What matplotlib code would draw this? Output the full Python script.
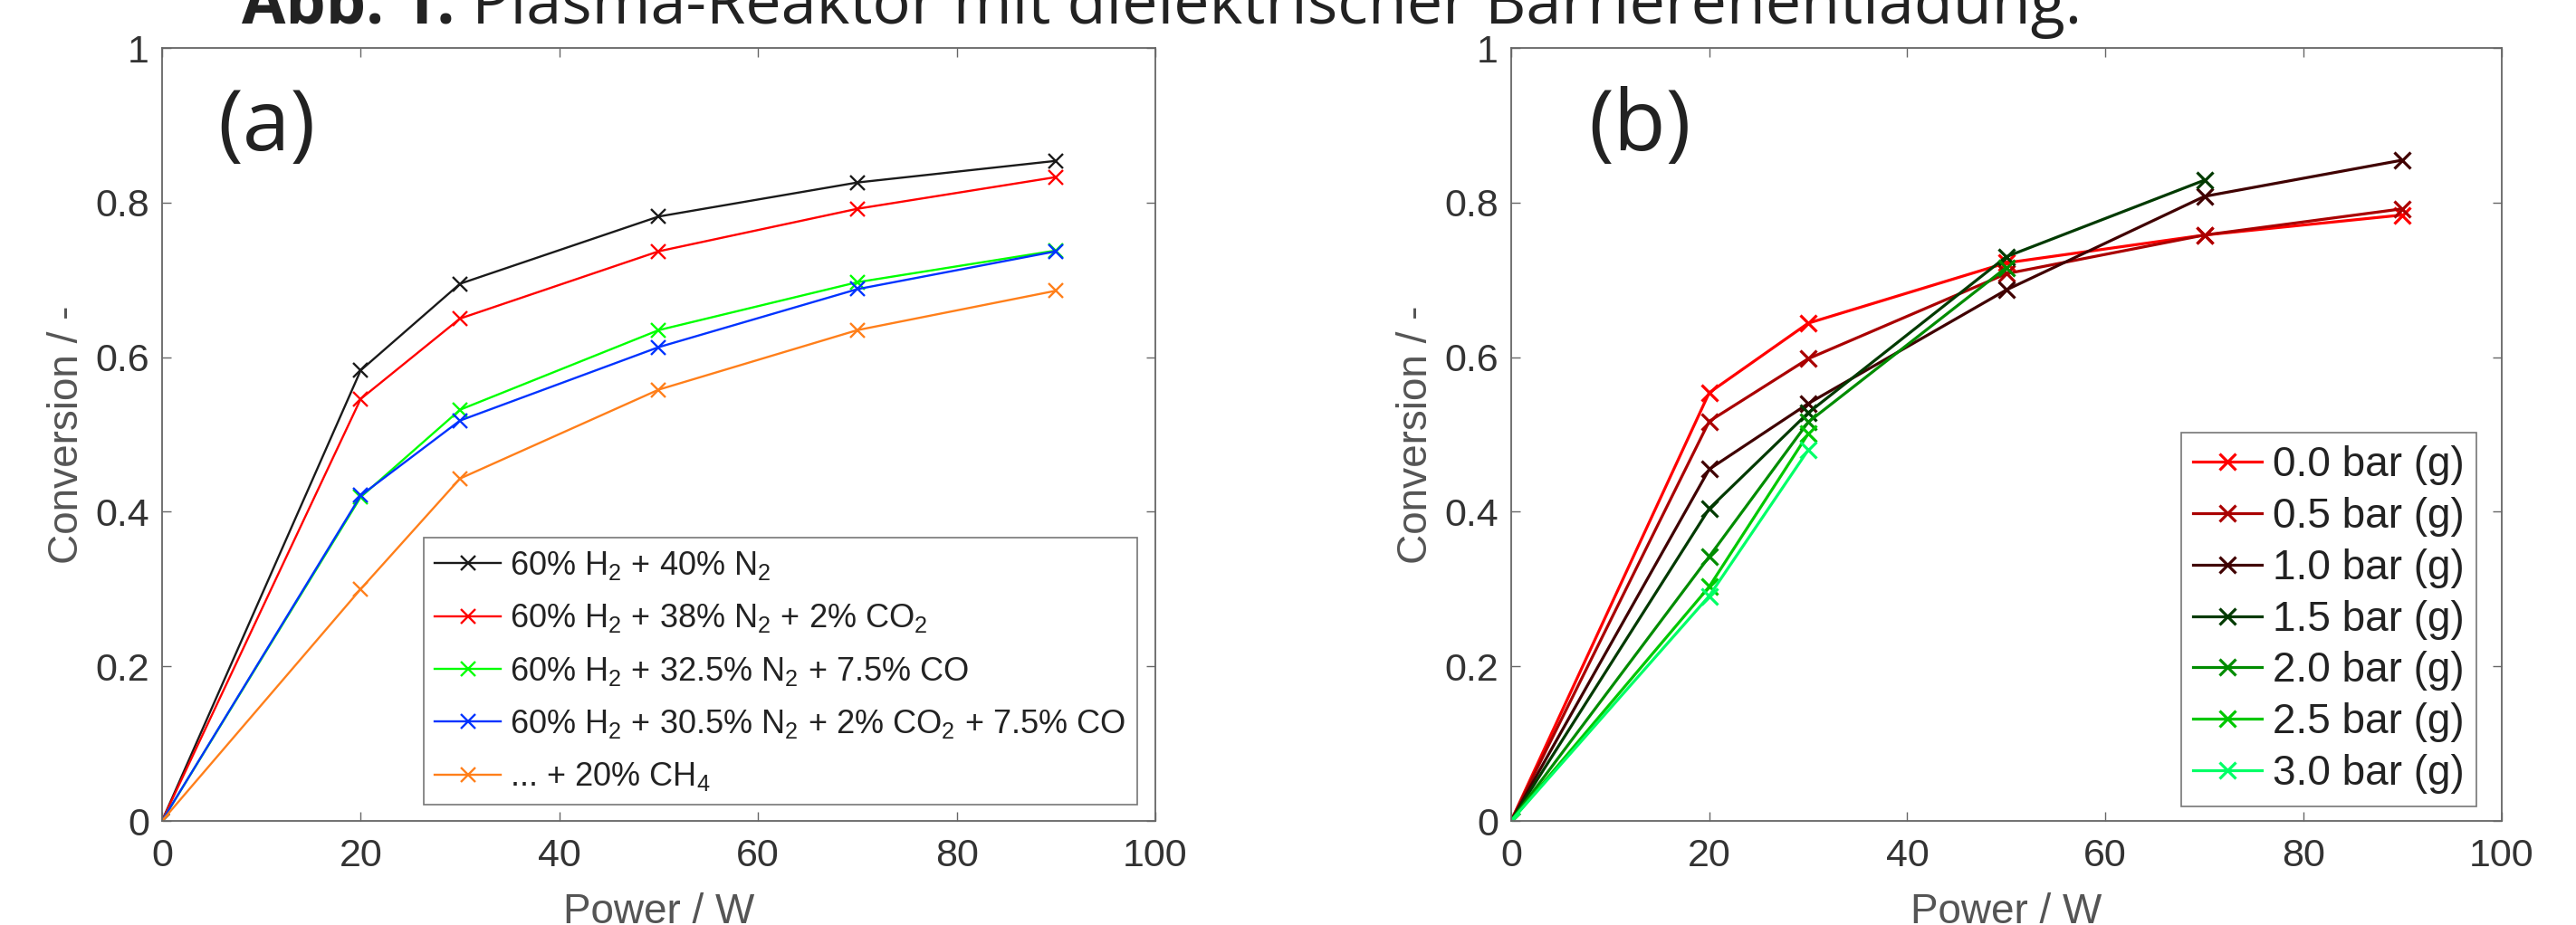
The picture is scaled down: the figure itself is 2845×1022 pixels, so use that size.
import numpy as np
import matplotlib.pyplot as plt

# ---- data (a): gas mixtures ----
power_a = [0, 20, 30, 50, 70, 90]
conv_h2n2 = [0, 0.583, 0.695, 0.782, 0.826, 0.854]
conv_co2 = [0, 0.546, 0.650, 0.737, 0.792, 0.833]
conv_co = [0, 0.419, 0.532, 0.635, 0.697, 0.738]
conv_co2_co = [0, 0.421, 0.518, 0.613, 0.688, 0.737]
conv_ch4 = [0, 0.300, 0.443, 0.558, 0.635, 0.686]

labels_a = [
    r"60% H$_2$ + 40% N$_2$",
    r"60% H$_2$ + 38% N$_2$ + 2% CO$_2$",
    r"60% H$_2$ + 32.5% N$_2$ + 7.5% CO",
    r"60% H$_2$ + 30.5% N$_2$ + 2% CO$_2$ + 7.5% CO",
    r"... + 20% CH$_4$",
]
colors_a = ["#1a1a1a", "#ff0000", "#00ff00", "#0033ff", "#ff7f1a"]

# ---- data (b): pressures ----
power_b = [
    [0, 20, 30, 50, 70, 90],
    [0, 20, 30, 50, 70, 90],
    [0, 20, 30, 50, 70, 90],
    [0, 20, 30, 50, 70],
    [0, 20, 30, 50],
    [0, 20, 30],
    [0, 20, 30],
]
conv_b = [
    [0, 0.554, 0.644, 0.722, 0.758, 0.784],
    [0, 0.517, 0.598, 0.708, 0.758, 0.792],
    [0, 0.455, 0.540, 0.687, 0.808, 0.855],
    [0, 0.404, 0.528, 0.730, 0.829],
    [0, 0.342, 0.516, 0.716],
    [0, 0.303, 0.501],
    [0, 0.291, 0.480],
]
labels_b = ["0.0 bar (g)", "0.5 bar (g)", "1.0 bar (g)", "1.5 bar (g)",
            "2.0 bar (g)", "2.5 bar (g)", "3.0 bar (g)"]
colors_b = ["#ff0000", "#aa0000", "#400000", "#003a00", "#008c00", "#00c800", "#00ff66"]

plt.rcParams.update({
    "font.family": ["Liberation Sans", "DejaVu Sans"],
    "mathtext.fontset": "custom",
    "mathtext.rm": "Liberation Sans",
    "mathtext.it": "Liberation Sans:italic",
    "mathtext.bf": "Liberation Sans:bold",
    "xtick.direction": "in",
    "ytick.direction": "in",
    "xtick.top": True,
    "ytick.right": True,
    "xtick.major.size": 7.2,
    "ytick.major.size": 7.2,
    "xtick.major.width": 1.0,
    "ytick.major.width": 1.0,
    "xtick.major.pad": 14,
    "ytick.major.pad": 10,
    "axes.linewidth": 1.3,
    "axes.edgecolor": "#666666",
    "xtick.color": "#666666",
    "ytick.color": "#666666",
    "xtick.labelcolor": "#333333",
    "ytick.labelcolor": "#333333",
    "xtick.labelsize": 31,
    "ytick.labelsize": 31,
})

fig = plt.figure(figsize=(28.45, 10.22), dpi=100)
ax1 = fig.add_axes([0.0629, 0.1125, 0.3856, 0.8356])
ax2 = fig.add_axes([0.5866, 0.1125, 0.3845, 0.8356])

series_a = [conv_h2n2, conv_co2, conv_co, conv_co2_co, conv_ch4]
for y, lab, c in zip(series_a, labels_a, colors_a):
    ax1.plot(power_a, y, color=c, lw=1.7, marker="x", ms=11, mew=1.7, label=lab)

for x, y, lab, c in zip(power_b, conv_b, labels_b, colors_b):
    ax2.plot(x, y, color=c, lw=2.3, marker="x", ms=13, mew=2.3, label=lab)

for ax in (ax1, ax2):
    ax.set_xlim(0, 100)
    ax.set_ylim(0, 1)
    ax.set_xticks([0, 20, 40, 60, 80, 100])
    ax.set_yticks([0, 0.2, 0.4, 0.6, 0.8, 1])
    ax.set_yticklabels(["0", "0.2", "0.4", "0.6", "0.8", "1"])
    ax.set_xlabel("Power / W", fontsize=33, color="#555555", labelpad=14)
    ax.set_ylabel("Conversion / -", fontsize=33, color="#555555", labelpad=7)

leg1 = ax1.legend(loc="lower right", bbox_to_anchor=(0.982, 0.021), fontsize=26,
                  fancybox=False, edgecolor="#777777", framealpha=1,
                  handlelength=2.0, handletextpad=0.3, labelspacing=0.62,
                  borderpad=0.35, borderaxespad=0)
leg1.get_frame().set_linewidth(1.2)
leg2 = ax2.legend(loc="lower right", bbox_to_anchor=(0.975, 0.019), fontsize=33,
                  fancybox=False, edgecolor="#777777", framealpha=1,
                  handlelength=1.66, handletextpad=0.25, labelspacing=0.28,
                  borderpad=0.3, borderaxespad=0)
leg2.get_frame().set_linewidth(1.2)
for t in leg1.get_texts() + leg2.get_texts():
    t.set_color("#222222")

fig.text(0.1033, 0.862, "(a)", fontsize=68, family="Open Sans", color="#222222",
         ha="center", va="center")
fig.text(0.6366, 0.862, "(b)", fontsize=68, family="Open Sans", color="#222222",
         ha="center", va="center")

title_y = 0.975
t1 = fig.text(0.094, title_y, "Abb. 1:", fontsize=50.5, family="Open Sans",
              weight="bold", color="#222222", ha="left", va="baseline")
t2 = fig.text(0.5, title_y, " Plasma-Reaktor mit dielektrischer Barrierenentladung.",
              fontsize=50.5, family="Open Sans", color="#222222",
              ha="left", va="baseline")
# place the regular part right after the bold part
fig.canvas.draw()
bb = t1.get_window_extent()
t2.set_position((bb.x1 / fig.bbox.width, title_y))

fig.savefig("out.png", dpi=100)
